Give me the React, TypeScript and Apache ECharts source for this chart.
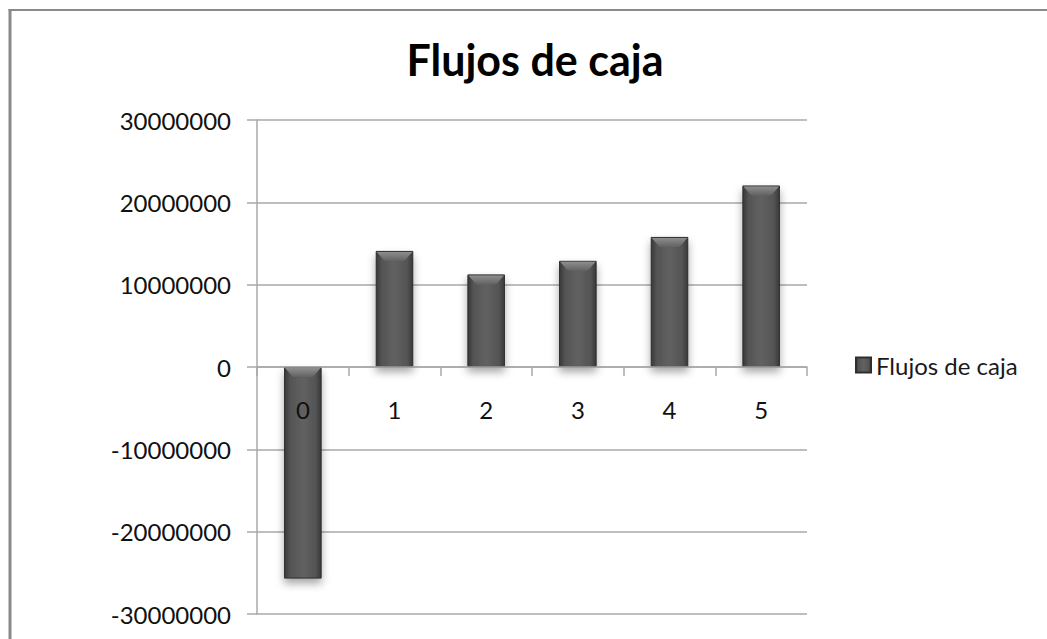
import React, { useEffect, useRef } from 'react';
import * as echarts from 'echarts';

const titleText = 'Flujos de caja';
const seriesName = 'Flujos de caja';
const categories = ['0', '1', '2', '3', '4', '5'];
const flujos = [-25700000, 14100000, 11250000, 12900000, 15800000, 22050000];
const yMin = -30000000;
const yMax = 30000000;
const yInterval = 10000000;

export default function App() {
  const ref = useRef<HTMLDivElement>(null);

  useEffect(() => {
    if (!ref.current) return;
    const chart = echarts.init(ref.current, null, { renderer: 'svg' });

    const bodyGrad = new echarts.graphic.LinearGradient(0, 0, 1, 0, [
      { offset: 0, color: '#383838' },
      { offset: 0.15, color: '#545454' },
      { offset: 0.5, color: '#616161' },
      { offset: 0.85, color: '#545454' },
      { offset: 1, color: '#383838' },
    ]);
    const bevelGrad = new echarts.graphic.LinearGradient(0, 0, 0, 1, [
      { offset: 0, color: '#8e8e8e' },
      { offset: 1, color: '#626262' },
    ]);
    const gridColor = '#a8a8a8';
    const labelFont = 'Lato';

    const gridTop = 120;
    const gridBottomPx = 614;
    const zeroY = gridTop + ((yMax - 0) / (yMax - yMin)) * (gridBottomPx - gridTop);

    chart.setOption({
      animation: false,
      backgroundColor: '#ffffff',
      title: {
        text: titleText,
        left: 530,
        top: 33,
        textAlign: 'center',
        textStyle: { fontFamily: 'Lato', fontWeight: 'bold', fontSize: 43, color: '#000000' },
      },
      legend: {
        data: [seriesName],
        left: 855,
        top: 353,
        padding: 0,
        icon: 'rect',
        itemWidth: 15,
        itemHeight: 15,
        itemGap: 4,
        textStyle: { fontFamily: labelFont, fontSize: 24, color: '#1a1a1a' },
      },
      grid: {
        left: 257,
        right: 240,
        top: gridTop,
        bottom: 639 - gridBottomPx,
        containLabel: false,
        outerBoundsMode: 'none',
      },
      xAxis: {
        type: 'category',
        data: categories,
        z: 5,
        position: 'bottom',
        offset: -(gridBottomPx - zeroY),
        axisLine: { onZero: false, lineStyle: { color: gridColor, width: 1.5 } },
        axisTick: { show: true, length: 9, lineStyle: { color: gridColor, width: 1.5 } },
        axisLabel: { margin: 30, fontFamily: labelFont, fontSize: 24, color: '#111111' },
        splitLine: { show: false },
      },
      yAxis: {
        type: 'value',
        min: yMin,
        max: yMax,
        interval: yInterval,
        axisLine: { show: true, lineStyle: { color: gridColor, width: 1.5 } },
        axisTick: { show: true, length: 10, lineStyle: { color: gridColor, width: 1.5 } },
        axisLabel: {
          margin: 26,
          fontFamily: labelFont,
          fontSize: 24,
          color: '#111111',
          formatter: (v: number) => String(v),
        },
        splitLine: { show: true, lineStyle: { color: gridColor, width: 1.5 } },
      },
      graphic: [
        { type: 'line', silent: true, shape: { x1: 10, y1: 9, x2: 10, y2: 700 }, style: { stroke: '#8a8a8a', lineWidth: 3 } },
        { type: 'line', silent: true, shape: { x1: 8.5, y1: 10, x2: 1100, y2: 10 }, style: { stroke: '#8a8a8a', lineWidth: 2 } },
      ],
      series: [
        {
          type: 'bar',
          name: seriesName,
          data: flujos,
          barWidth: '41%',
          z: 2,
          itemStyle: {
            color: bodyGrad,
            borderColor: '#2e2e2e',
            borderWidth: 1,
            shadowBlur: 8,
            shadowOffsetY: 5,
            shadowColor: 'rgba(0,0,0,0.35)',
          },
        },
        {
          type: 'custom',
          name: 'bevel',
          z: 3,
          silent: true,
          data: flujos.map((v, i) => [i, v]),
          encode: { x: 0, y: 1 },
          renderItem: (params: any, api: any) => {
            const i = api.value(0);
            const v = api.value(1);
            const p0 = api.coord([i, 0]);
            const p1 = api.coord([i, v]);
            const w = api.size([1, 0])[0] * 0.41;
            const top = Math.min(p0[1], p1[1]);
            const xL = p0[0] - w / 2;
            const xR = p0[0] + w / 2;
            const h = 10;
            const inset = 9;
            return {
              type: 'polygon',
              shape: {
                points: [
                  [xL + 1, top + 1],
                  [xR - 1, top + 1],
                  [xR - inset, top + h],
                  [xL + inset, top + h],
                ],
              },
              style: { fill: bevelGrad },
            };
          },
        },
      ],
    });

    return () => chart.dispose();
  }, []);

  return (
    <div
      ref={ref}
      style={{ position: 'fixed', left: 0, top: 0, width: 1047, height: 639 }}
    />
  );
}
